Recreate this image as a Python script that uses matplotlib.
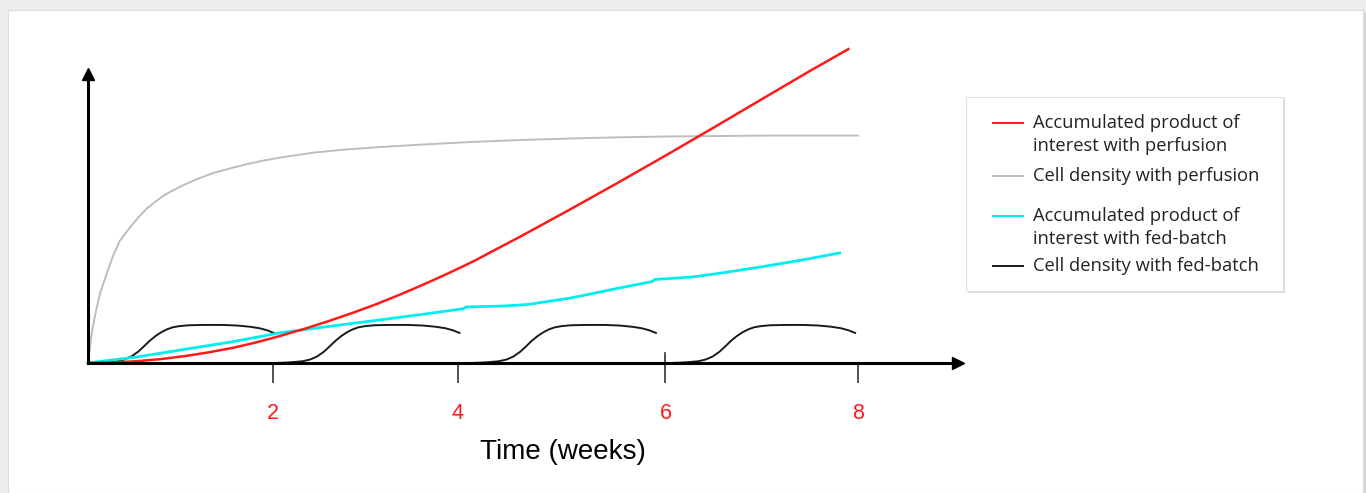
import matplotlib.pyplot as plt
import matplotlib.patches as mpatches
from matplotlib.lines import Line2D
import numpy as np

# values (x in weeks, y in arbitrary units, 100 = top of y arrow)
weeks_cell_perf = [0, 0.04, 0.07, 0.125, 0.197, 0.26, 0.33, 0.44, 0.53, 0.615, 0.7, 0.78,
                   0.87, 0.96, 1.13, 1.30, 1.48, 1.65, 1.82, 1.99, 2.34, 2.65, 3.03,
                   3.5, 3.97, 4.5, 5.01, 5.5, 6.05, 7.09, 8.0]
cell_perf = [0, 10.2, 15.6, 23.7, 30.5, 36.3, 41.4, 46.1, 49.6, 52.5, 54.7, 56.6,
             58.3, 59.8, 62.3, 64.4, 66.0, 67.4, 68.6, 69.6, 71.3, 72.3, 73.2,
             74.1, 74.9, 75.6, 76.1, 76.5, 76.8, 77.1, 77.1]

weeks_prod_perf = [0, 0.25, 0.5, 0.75, 1.0, 1.25, 1.5, 1.75, 2.0, 2.25, 2.5, 2.75, 3.0,
                   3.25, 3.5, 3.75, 4.0, 4.5, 5.0, 5.5, 6.0, 6.5, 7.0, 7.5, 7.9]
prod_perf = [0, 0.15, 0.6, 1.3, 2.3, 3.6, 5.1, 7.0, 9.2, 11.6, 14.2, 17.0, 20.0,
             23.3, 26.8, 30.5, 34.4, 43.0, 51.9, 61.0, 70.3, 79.8, 89.4, 99.0, 106.4]

weeks_prod_fb = [0, 0.5, 0.96, 1.5, 1.99, 2.5, 3.03, 3.5, 3.90, 3.93, 4.3, 4.56, 5.01,
                 5.25, 5.5, 5.86, 5.89, 6.29, 6.6, 6.98, 7.4, 7.81]
prod_fb = [0, 2.0, 4.4, 7.2, 10.2, 12.4, 14.6, 16.6, 18.4, 19.0, 19.3, 19.8, 22.0,
           23.6, 25.3, 27.6, 28.3, 29.2, 30.6, 32.5, 34.8, 37.3]

# one fed-batch run (offset in weeks, cell density) and the start of each run
batch_dx = [0, 0.1, 0.2, 0.3, 0.38, 0.45, 0.52, 0.58, 0.64, 0.7, 0.76, 0.82, 0.88, 0.95,
            1.05, 1.2, 1.4, 1.55, 1.68, 1.78, 1.86, 1.93]
batch_y = [0, 0.1, 0.3, 0.6, 1.2, 2.2, 3.8, 5.6, 7.5, 9.1, 10.4, 11.4, 12.1, 12.5,
           12.8, 12.9, 12.9, 12.7, 12.3, 11.8, 11.1, 10.2]
batch_starts = [0, 1.93, 3.97, 6.04]

tick_pos = [1.92, 3.84, 6.0, 8.0]
tick_labels = ["2", "4", "6", "8"]

series_labels = ["Accumulated product of\ninterest with perfusion",
                 "Cell density with perfusion",
                 "Accumulated product of\ninterest with fed-batch",
                 "Cell density with fed-batch"]
series_colors = ["#ff1a1a", "#bdbdbd", "#00eef0", "#1a1a1a"]

W, H = 1366, 493
fig = plt.figure(figsize=(W / 100, H / 100), dpi=100, facecolor="#ededed")

def fx(px):
    return px / W

def fy(py):
    return 1 - py / H

# white panel with soft border
fig.patches.append(mpatches.Rectangle((fx(10), 0), fx(1356), fy(12), transform=fig.transFigure,
                                      facecolor="#d6d6d6", edgecolor="none", zorder=-2))
fig.patches.append(mpatches.Rectangle((fx(8), 0), fx(1355), fy(10), transform=fig.transFigure,
                                      facecolor="white", edgecolor="#dcdcdc", lw=0.8, zorder=-1))

ax = fig.add_axes([fx(88), fy(363), fx(958 - 88), (363 - 74) / H])
ax.set_facecolor("none")
ax.set_xlim(0, (958 - 88) / 96.25)
ax.set_ylim(0, (363 - 74) / 2.95)

ax.plot(weeks_cell_perf, cell_perf, color=series_colors[1], lw=1.4, clip_on=False)
for s in batch_starts:
    ax.plot(np.array(batch_dx) + s, batch_y, color=series_colors[3], lw=1.4, clip_on=False)
ax.plot(weeks_prod_fb, prod_fb, color=series_colors[2], lw=2.0, clip_on=False)
ax.plot(weeks_prod_perf, prod_perf, color=series_colors[0], lw=1.8, clip_on=False)

for side in ["top", "right"]:
    ax.spines[side].set_visible(False)
ax.spines["left"].set_linewidth(2.2)
ax.spines["bottom"].set_linewidth(2.2)
ax.plot(1, 0, ">k", ms=8, transform=ax.get_yaxis_transform(), clip_on=False)
ax.plot(0, 1, "^k", ms=8, transform=ax.get_xaxis_transform(), clip_on=False)

ax.set_yticks([])
ax.set_xticks(tick_pos)
ax.set_xticklabels(tick_labels, color="#ff1a1a", fontsize=15.5, family="Liberation Sans")
ax.tick_params(axis="x", direction="out", length=14.5, width=1.2, color="#333333", pad=14)
# the 6-week tick also pokes above the axis
ax.plot([6.0, 6.0], [0, 3.4], color="#333333", lw=1.2, clip_on=False)

fig.text(fx(563), fy(452), "Time (weeks)", ha="center", va="center",
         fontsize=20, family="Liberation Sans")

# legend box drawn by hand to follow the original spacing
fig.patches.append(mpatches.Rectangle((fx(968), fy(293)), fx(317), (293 - 97) / H - 0.002,
                                      transform=fig.transFigure, facecolor="#d9d9d9",
                                      edgecolor="none", zorder=1))
fig.patches.append(mpatches.Rectangle((fx(966), fy(291)), fx(317), (291 - 97) / H,
                                      transform=fig.transFigure, facecolor="white",
                                      edgecolor="#e0e0e0", lw=0.8, zorder=1))
entry_y = [123, 176, 216, 266]
for lab, col, y in zip(series_labels, series_colors, entry_y):
    fig.add_artist(Line2D([fx(993), fx(1023)], [fy(y), fy(y)], color=col, lw=1.4,
                          transform=fig.transFigure, zorder=2))
    for k, line in enumerate(lab.split("\n")):
        fig.text(fx(1033), fy(y + 23 * k), line, ha="left", va="center",
                 fontsize=13.2, family="Open Sans", color="#222222", zorder=3)

fig.savefig("out.png", dpi=100, facecolor=fig.get_facecolor())
